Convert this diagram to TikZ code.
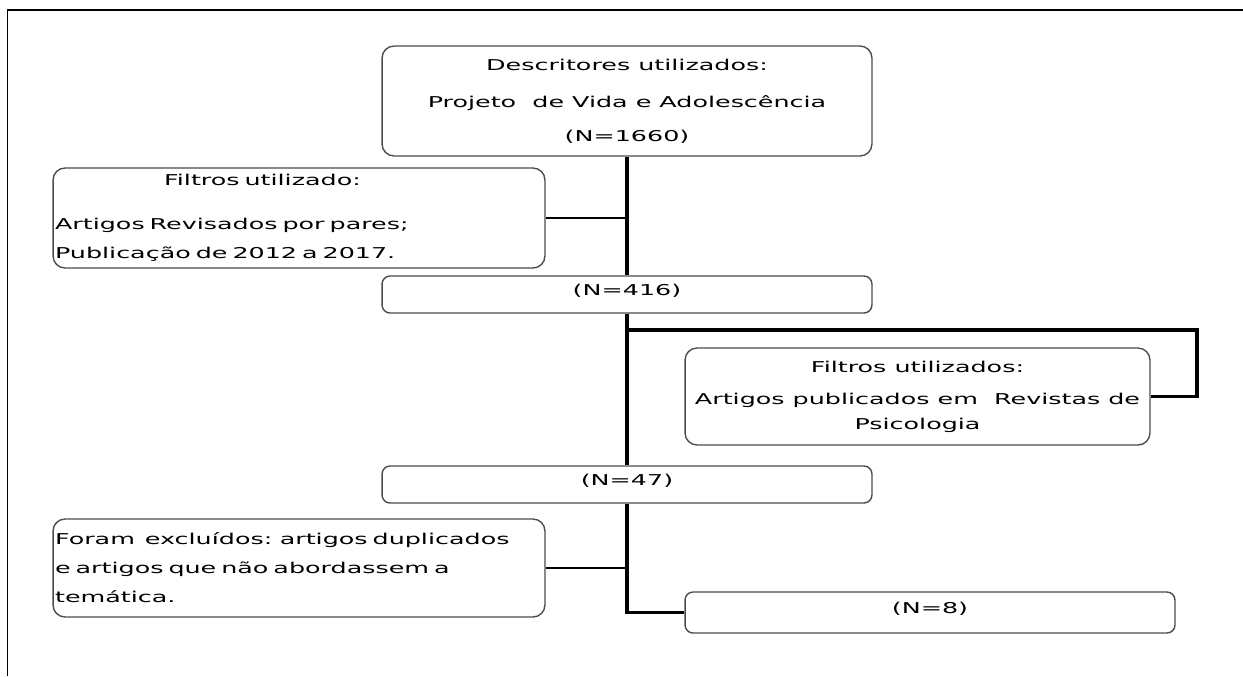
\documentclass[tikz,border=0pt]{standalone}
\usepackage{fontspec}
\setmainfont{DejaVu Sans}[FakeStretch=1.7]
\usepackage{tikz}
\tikzset{
    roundbox/.style={
        rectangle,
        draw=black!70, % 边框为深灰色
        line width=0.8pt,
        rounded corners=0.24cm, % 圆角
        inner sep=0.04cm,
        font=\fontsize{8.5}{16.5}\selectfont
    },
    countbox/.style={
        roundbox,
        rounded corners=0.16cm,
        minimum width=9.8cm,
        text depth=0.55em
    },
    trunk/.style={line width=2.2pt}, % 主干线加粗
    branch/.style={line width=1.6pt},
    frameline/.style={line width=1.1pt}
}

\begin{document}
\begin{tikzpicture}[x=0.02cm, y=-0.02cm]
            \useasboundingbox (0,0) rectangle (1243,676);
            % 外框
            \draw[frameline] (1243,10) -- (7.5,10) -- (7.5,676);

            % 方框
            \node[roundbox, minimum width=9.8cm, minimum height=2.2cm, align=center] (descr) at (627,101)
                {Descritores utilizados:\\[4.5pt] Projeto\ \ de Vida e Adolescência\\[3pt] (N=1660)};
            \node[roundbox, text width=9.76cm, minimum height=2cm, align=left] (filtrosA) at (299,218)
                {\makebox[8.3cm]{Filtros utilizado:}\\[8.5pt] Artigos Revisados por pares;\\ Publicação de 2012 a 2017.};
            \node[countbox, minimum height=0.74cm] (n416) at (627,294.5) {(N=416)};
            \node[roundbox, minimum width=9.3cm, minimum height=1.94cm, align=center] (filtrosB) at (917.5,396.5)
                {Filtros utilizados:\\[1.7pt] Artigos publicados em\ \ Revistas de\\[-2.3pt] Psicologia};
            \node[countbox, minimum height=0.74cm] (n47) at (627,484.5) {(N=47)};
            \node[roundbox, text width=9.76cm, minimum height=1.96cm, align=left] (excluidos) at (299,568)
                {Foram\ \ excluídos: artigos duplicados\\ e artigos que não abordassem a\\ temática.};
            \node[countbox, minimum height=0.82cm] (n8) at (930,612.5) {(N=8)};

            % 连接线
            \draw[trunk] (descr) -- (n416);
            \draw[trunk] (n416) -- (n47);
            \draw[trunk] (n47.south) |- (n8.west);
            \draw[branch] (filtrosA.east) -- (filtrosA.east -| descr.south);
            \coordinate (volta) at (1197,330);
            \draw[trunk] (n416.south |- volta) -- (volta) |- (filtrosB.east);
            \draw[branch] (excluidos.east) -- (excluidos.east -| n47.south);
\end{tikzpicture}
\end{document}
